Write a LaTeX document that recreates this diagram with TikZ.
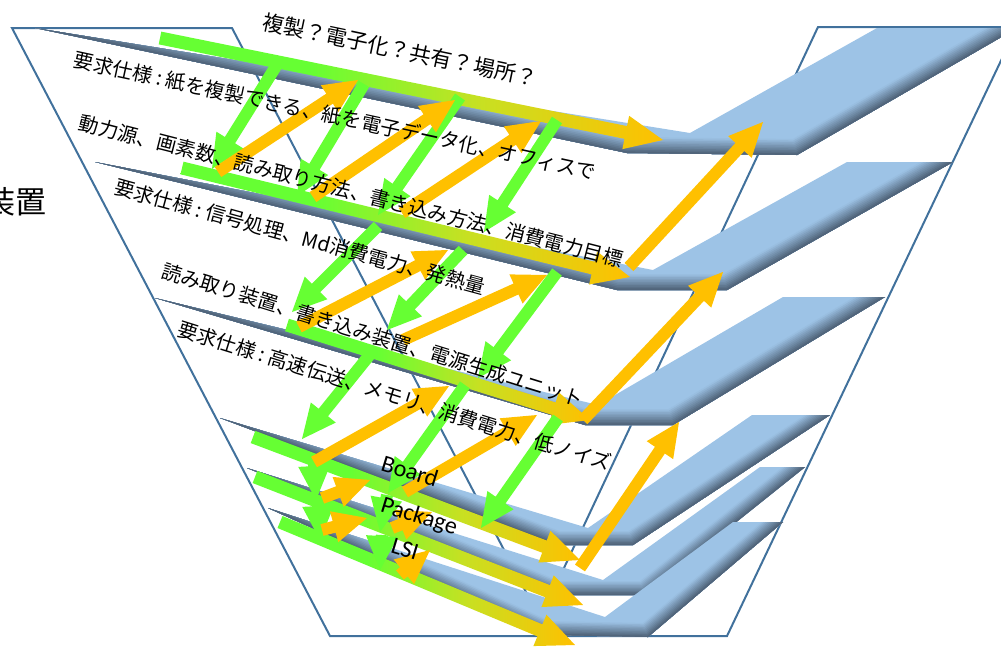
\documentclass[tikz,border=0pt]{standalone}
\usepackage{fontspec}
\newfontfamily\jp{Noto Sans CJK JP}
\newfontfamily\lat{Carlito}
\usetikzlibrary{calc}
\definecolor{vline}{HTML}{41719C}
\definecolor{blight}{HTML}{9DC3E6}
\definecolor{bdark}{HTML}{4D6075}
\definecolor{agreen}{HTML}{66FF33}
\definecolor{aorange}{HTML}{FFC000}
\definecolor{ymid}{HTML}{C8E022}
\pgfdeclarehorizontalshading{lvlshade}{100bp}{color(0bp)=(agreen); color(25bp)=(agreen); color(40bp)=(agreen); color(57bp)=(ymid); color(75bp)=(aorange); color(100bp)=(aorange)}
\def\shw{6pt}\def\hhw{16pt}\def\hln{34pt}
\newcommand{\vmarrow}[3]{%
  \coordinate (hb) at ($(#3)!\hln!(#2)$);
  \path[#1] ($(#2)!\shw!90:(#3)$) -- ($(hb)!\shw!90:(#3)$) -- ($(hb)!\hhw!90:(#3)$) -- (#3)
    -- ($(hb)!\hhw!-90:(#3)$) -- ($(hb)!\shw!-90:(#3)$) -- ($(#2)!\shw!-90:(#3)$) -- cycle;
}
\newcommand{\vmslab}[7]{%
  \begin{scope}
    \clip (#2)--(#3)--(#4)--(#5)--(#6)--(#7)--cycle;
    \fill[blight] (#2)--(#3)--(#4)--(#5)--(#6)--(#7)--cycle;
    \foreach \k in {10,9,...,1}{%
      \pgfmathtruncatemacro{\pp}{(11-\k)*10-5}
      \draw[line width={2*\k*#1/10}, draw=bdark!\pp!blight, line join=miter] (#2)--(#7)--(#6)--(#5);
    }
  \end{scope}}
\newcommand{\vmcolon}{\hspace{0.22em}:\hspace{0.22em}}
\tikzset{
  garr/.style={fill=agreen},
  oarr/.style={fill=aorange},
  larr/.style={shading=lvlshade},
  jtxt/.style={font=\jp\fontsize{20}{20}\selectfont, inner sep=0pt, text=black},
  ltxt/.style={font=\lat\fontsize{24}{24}\selectfont, inner sep=0pt, text=black, rotate=-17},
}
\begin{document}
\begin{tikzpicture}[x=1pt,y=-1pt]
\useasboundingbox (0,0) rectangle (1001,651);
\clip (0,0) rectangle (1001,651);
% outline
\draw[vline, line width=2pt, line join=miter] (12,28) -- (232,28) -- (540,619) -- (818,27) -- (1017,27) -- (727,636) -- (330,636) -- cycle;
% slabs
\coordinate (s1T) at (35,28); \coordinate (s1A) at (690,133); \coordinate (s1C) at (877,28); \coordinate (s1D) at (1017,28); \coordinate (s1E) at (797,155); \coordinate (s1F) at (627,153);
\coordinate (s2T) at (95,162); \coordinate (s2A) at (653,270); \coordinate (s2C) at (847,162); \coordinate (s2D) at (953,162); \coordinate (s2E) at (727,290); \coordinate (s2F) at (617,290);
\coordinate (s3T) at (155,298); \coordinate (s3A) at (598,405); \coordinate (s3C) at (783,297); \coordinate (s3D) at (885,297); \coordinate (s3E) at (673,425); \coordinate (s3F) at (585,425);
\coordinate (s4T) at (220,418); \coordinate (s4A) at (588,528); \coordinate (s4C) at (752,415); \coordinate (s4D) at (830,415); \coordinate (s4E) at (633,545); \coordinate (s4F) at (557,545);
\coordinate (s5T) at (247,468); \coordinate (s5A) at (603,580); \coordinate (s5C) at (760,467); \coordinate (s5D) at (805,467); \coordinate (s5E) at (645,595); \coordinate (s5F) at (557,595);
\coordinate (s6T) at (268,508); \coordinate (s6A) at (605,617); \coordinate (s6C) at (733,522); \coordinate (s6D) at (783,522); \coordinate (s6E) at (648,637); \coordinate (s6F) at (547,635);
\vmslab{16}{s1T}{s1A}{s1C}{s1D}{s1E}{s1F}
\vmslab{16}{s2T}{s2A}{s2C}{s2D}{s2E}{s2F}
\vmslab{16}{s3T}{s3A}{s3C}{s3D}{s3E}{s3F}
\vmslab{14}{s4T}{s4A}{s4C}{s4D}{s4E}{s4F}
\vmslab{14}{s5T}{s5A}{s5C}{s5D}{s5E}{s5F}
\vmslab{14}{s6T}{s6A}{s6C}{s6D}{s6E}{s6F}
% level arrows
\coordinate (l1s) at (160,38); \coordinate (l1e) at (663,140);
\coordinate (l2s) at (182,168); \coordinate (l2e) at (630,277);
\coordinate (l3s) at (287,325); \coordinate (l3e) at (590,420);
\coordinate (l4s) at (253,437); \coordinate (l4e) at (580,560);
\coordinate (l5s) at (255,477); \coordinate (l5e) at (583,605);
\coordinate (l6s) at (280,522); \coordinate (l6e) at (575,645);
\def\shw{6.5pt}\def\hhw{17pt}\def\hln{38pt}
\vmarrow{larr}{l1s}{l1e}
\vmarrow{larr}{l2s}{l2e}
\vmarrow{larr}{l3s}{l3e}
\vmarrow{larr}{l4s}{l4e}
\vmarrow{larr}{l5s}{l5e}
\vmarrow{larr}{l6s}{l6e}
% green arrows
\def\shw{6pt}\def\hhw{16pt}\def\hln{34pt}
\coordinate (g1as) at (278,63); \coordinate (g1ae) at (212,169);
\coordinate (g1bs) at (364,84); \coordinate (g1be) at (297,196);
\coordinate (g1cs) at (460,97); \coordinate (g1ce) at (378,215);
\coordinate (g1ds) at (557,120); \coordinate (g1de) at (484,232);
\coordinate (g2as) at (378,226); \coordinate (g2ae) at (292,312);
\coordinate (g2bs) at (463,250); \coordinate (g2be) at (387,330);
\coordinate (g2cs) at (557,272); \coordinate (g2ce) at (478,378);
\coordinate (g3as) at (372,352); \coordinate (g3ae) at (302,439);
\coordinate (g3bs) at (465,385); \coordinate (g3be) at (388,493);
\coordinate (g3cs) at (558,418); \coordinate (g3ce) at (481,528);
\coordinate (g4as) at (314,462); \coordinate (g4ae) at (316,500);
\coordinate (g5as) at (318,502); \coordinate (g5ae) at (320,540);
\coordinate (g4bs) at (387,495); \coordinate (g4be) at (380,532);
\coordinate (g5bs) at (382,535); \coordinate (g5be) at (380,570);
\foreach \g in {g1a,g1b,g1c,g1d,g2a,g2b,g2c,g3a,g3b,g3c,g4a,g5a,g4b,g5b}{\vmarrow{garr}{\g s}{\g e}}
% orange arrows
\coordinate (o1as) at (218,172); \coordinate (o1ae) at (358,80);
\coordinate (o1bs) at (313,197); \coordinate (o1be) at (455,100);
\coordinate (o1cs) at (402,213); \coordinate (o1ce) at (541,121);
\coordinate (o1ds) at (629,267); \coordinate (o1de) at (763,122);
\coordinate (o2as) at (299,327); \coordinate (o2ae) at (448,250);
\coordinate (o2bs) at (403,340); \coordinate (o2be) at (547,275);
\coordinate (o2cs) at (583,420); \coordinate (o2ce) at (723,272);
\coordinate (o3as) at (314,462); \coordinate (o3ae) at (449,386);
\coordinate (o3bs) at (405,492); \coordinate (o3be) at (537,415);
\coordinate (o3cs) at (580,568); \coordinate (o3ce) at (679,422);
\coordinate (o4as) at (322,498); \coordinate (o4ae) at (370,480);
\coordinate (o5as) at (322,530); \coordinate (o5ae) at (367,518);
\coordinate (o4bs) at (392,528); \coordinate (o4be) at (432,512);
\coordinate (o5bs) at (400,575); \coordinate (o5be) at (430,550);
\foreach \o in {o1a,o1b,o1c,o1d,o2a,o2b,o2c,o3a,o3b,o3c,o4a,o5a,o4b,o5b}{\vmarrow{oarr}{\o s}{\o e}}
% texts
\node[jtxt, font=\jp\fontsize{21.5}{21.5}\selectfont, rotate=-11.8] (t1) at (400,50) {複製？電子化？共有？場所？};
\node[jtxt, rotate=-12.2] (t2) at (335,116) {要求仕様\vmcolon 紙を複製できる、紙を電子データ化、オフィスで};
\node[jtxt, rotate=-14.3] (t3) at (351,191) {動力源、画素数、読み取り方法、書き込み方法、消費電力目標};
\node[jtxt, rotate=-15.3] (t4) at (300,237) {要求仕様\vmcolon 信号処理、Md消費電力、発熱量};
\node[jtxt, rotate=-17.2] (t5) at (373,335) {読み取り装置、書き込み装置、電源生成ユニット};
\node[jtxt, rotate=-17.4] (t6) at (395,396) {要求仕様\vmcolon 高速伝送、メモリ、消費電力、低ノイズ};
\node[ltxt] (tb) at (410,471) {Board};
\node[ltxt] (tp) at (419,517) {Package};
\node[ltxt] (tl) at (405,549) {LSI};
\node[jtxt, font=\jp\fontsize{31}{31}\selectfont, anchor=east] (tz) at (47,202) {装置};
\end{tikzpicture}
\end{document}
